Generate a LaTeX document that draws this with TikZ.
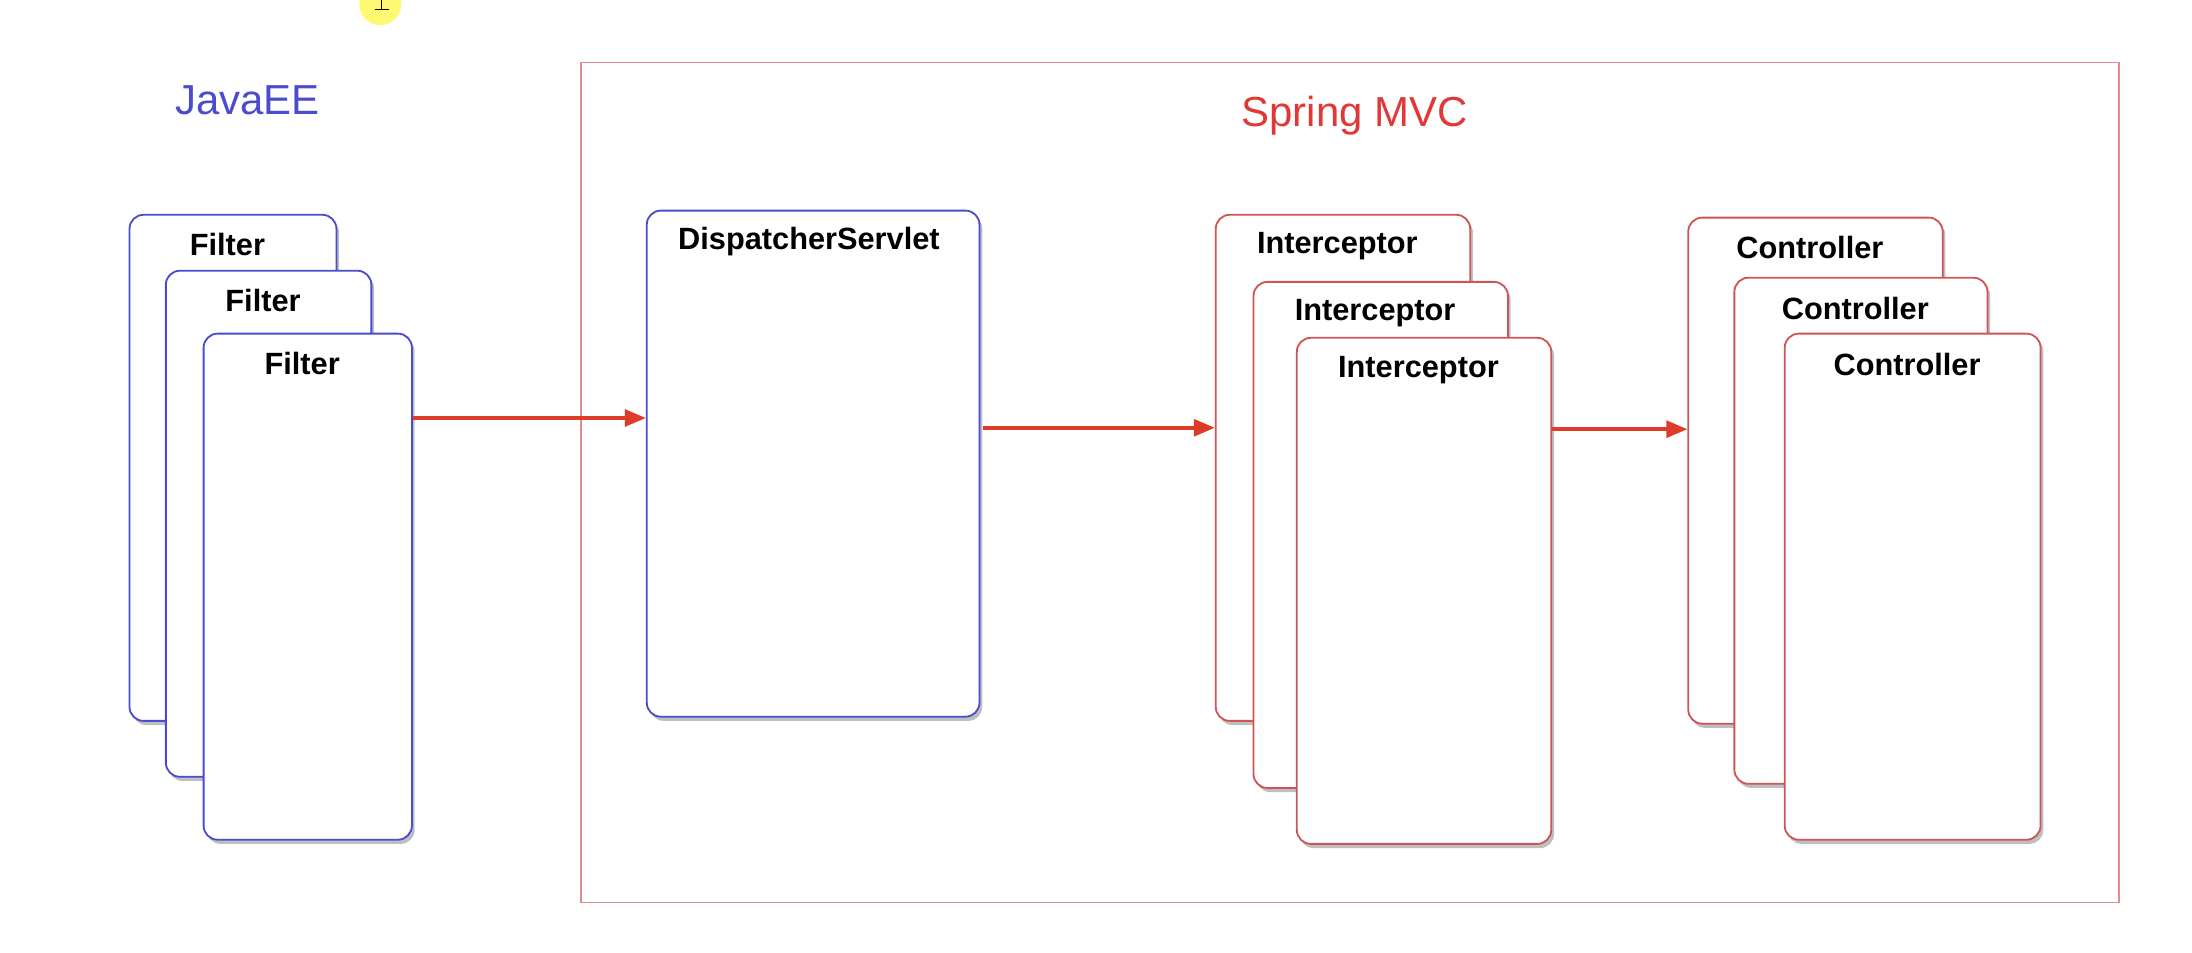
\documentclass[tikz,border=0pt]{standalone}
\usepackage{fontspec}
\setmainfont{Liberation Sans}
\usepackage{tikz}
\usetikzlibrary{arrows.meta, positioning, shadows}

\definecolor{eeblue}{RGB}{75,75,205}
\definecolor{mvcred}{RGB}{205,85,85}
\definecolor{titlered}{RGB}{225,55,55}
\definecolor{framered}{RGB}{222,140,140}
\definecolor{arrowred}{RGB}{222,60,40}

\tikzset{
    card/.style={draw, line width=1.3pt, fill=white, rounded corners=10pt,
        anchor=north west, inner sep=0pt, minimum width=#1, minimum height=362pt,
        drop shadow={shadow xshift=2pt, shadow yshift=-3pt, opacity=.5}},
    eecard/.style={card=#1, draw=eeblue},
    mvccard/.style={card=#1, draw=mvcred},
    cardname/.style={font=\bfseries\fontsize{22}{26}\selectfont},
    title/.style={font=\fontsize{30}{36}\selectfont},
    flow/.style={draw=arrowred, line width=2.5pt, -{Triangle[length=15pt, width=12pt]}},
}

\begin{document}
\begin{tikzpicture}[x=1pt, y=-1pt]
    \useasboundingbox (0,0) rectangle (1568,681);
    % cursor mark
    \fill[yellow!85, opacity=.65] (272,3) circle (15pt);
    \draw[line width=1pt] (273,-6) -- (273,7);
    \draw[line width=1pt] (268,7) -- (278,7);

    % titles and frame
    \node[title, text=eeblue] (javaee) at (177,72) {JavaEE};
    \node[draw=framered, line width=1.2pt, anchor=north west, inner sep=0pt,
        minimum width=1100pt, minimum height=601pt] (mvc) at (415,44) {};
    \node[title, text=titlered] (springmvc) at (969,83) {Spring MVC};

    % filters
    \node[eecard=148pt] (f1) at (92,153) {};
    \node[cardname] (f1n) at ([xshift=-4pt, yshift=-22pt]f1.north) {Filter};
    \node[eecard=147pt] (f2) at (118,193) {};
    \node[cardname] (f2n) at ([xshift=-4pt, yshift=-22pt]f2.north) {Filter};
    \node[eecard=149pt] (f3) at (145,238) {};
    \node[cardname] (f3n) at ([xshift=-4pt, yshift=-22pt]f3.north) {Filter};

    % dispatcher
    \node[eecard=238pt] (ds) at (462,150) {};
    \node[cardname] (dsn) at ([xshift=-3pt, yshift=-23pt]ds.north) {DispatcherServlet};

    % interceptors
    \node[mvccard=182pt] (i1) at (869,153) {};
    \node[cardname] (i1n) at ([xshift=-4pt, yshift=-23pt]i1.north) {Interceptor};
    \node[mvccard=182pt] (i2) at (896,201) {};
    \node[cardname] (i2n) at ([xshift=-4pt, yshift=-23pt]i2.north) {Interceptor};
    \node[mvccard=182pt] (i3) at (927,241) {};
    \node[cardname] (i3n) at ([xshift=-4pt, yshift=-24pt]i3.north) {Interceptor};

    % controllers
    \node[mvccard=182pt] (c1) at (1207,155) {};
    \node[cardname] (c1n) at ([xshift=-4pt, yshift=-22pt]c1.north) {Controller};
    \node[mvccard=181pt] (c2) at (1240,198) {};
    \node[cardname] (c2n) at ([xshift=-4pt, yshift=-23pt]c2.north) {Controller};
    \node[mvccard=183pt] (c3) at (1276,238) {};
    \node[cardname] (c3n) at ([xshift=-4pt, yshift=-23pt]c3.north) {Controller};

    \draw[flow] ([yshift=-61pt]f3.north east) -- ([yshift=-61pt]f3.north east -| ds.west);
    \draw[flow] ([xshift=2pt, yshift=-156pt]ds.north east) -- ([yshift=-156pt]ds.north east -| i1.west);
    \draw[flow] ([yshift=-66pt]i3.north east) -- ([yshift=-66pt]i3.north east -| c1.west);
\end{tikzpicture}
\end{document}
